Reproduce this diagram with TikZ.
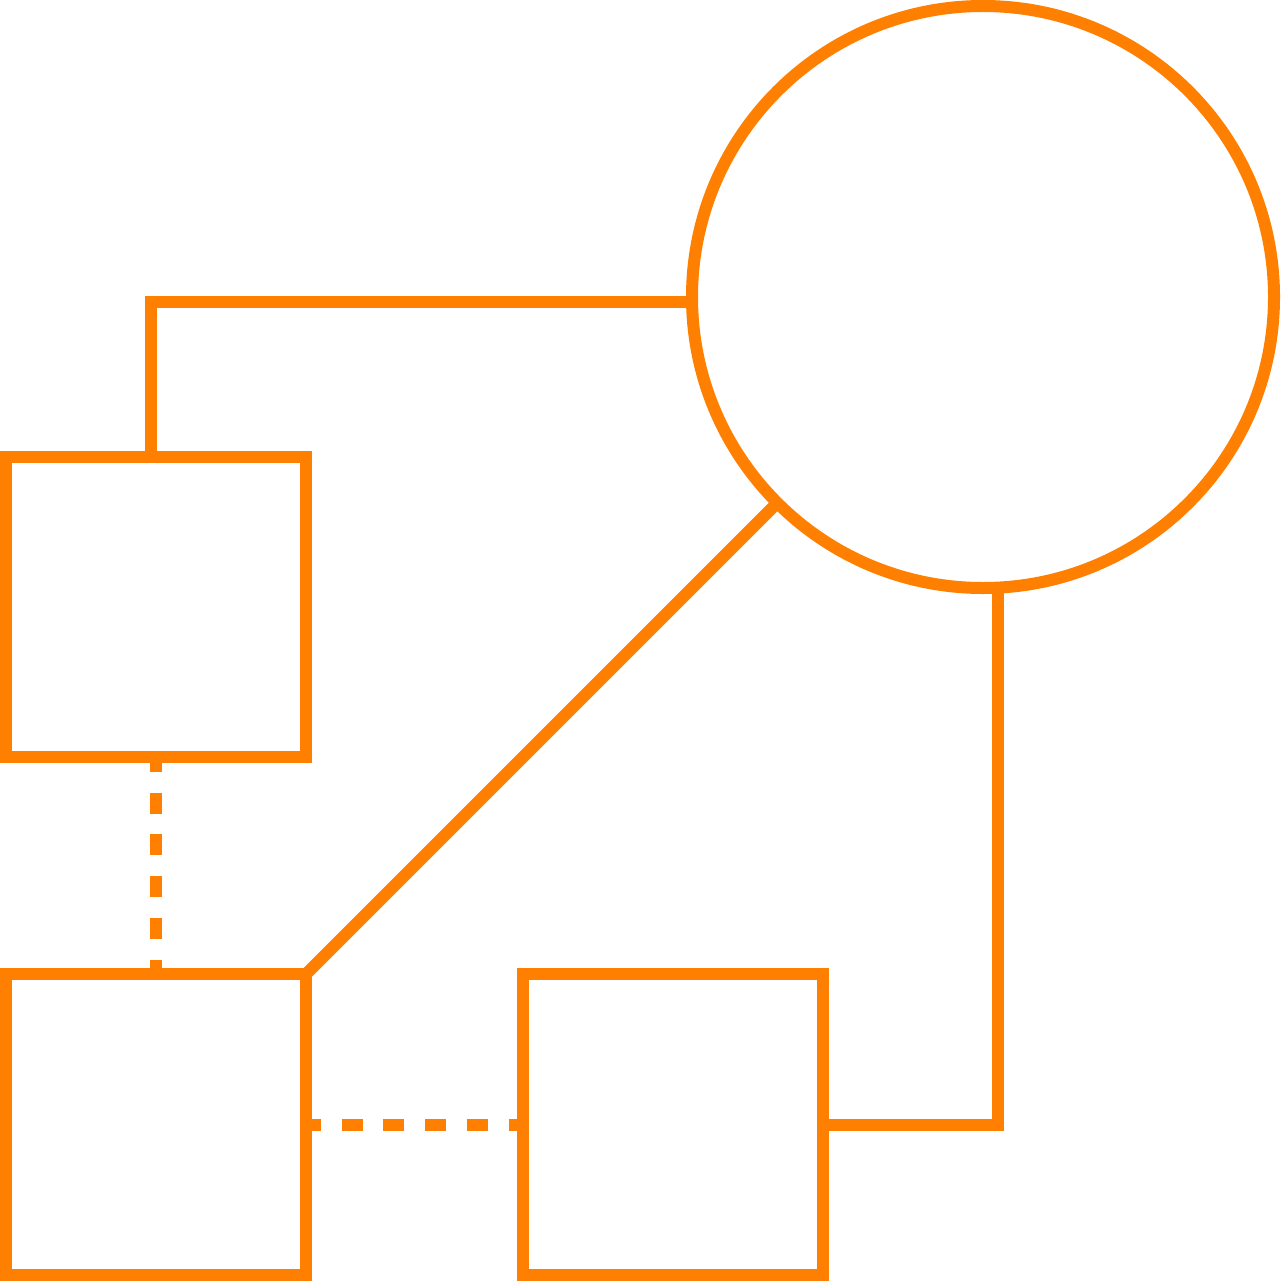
\documentclass[tikz,border=0pt]{standalone}
\definecolor{orng}{HTML}{FF7F00}
\begin{document}
\begin{tikzpicture}[x=1pt,y=-1pt,
  boxnode/.style={draw=orng,line width=12pt,rectangle,inner sep=0pt,outer sep=0pt,minimum width=300pt,minimum height=300pt},
  circnode/.style={draw=orng,line width=12pt,circle,inner sep=0pt,outer sep=0pt,minimum size=582pt},
  conn/.style={draw=orng,line width=12pt},
  dconn/.style={conn,dash pattern=on 21pt off 20.7pt,dash phase=6pt}]
\useasboundingbox (0,0) rectangle (1280,1281);
\node[circnode] (circ) at (983,297) {};
\node[boxnode] (boxA) at (156,607) {};
\node[boxnode, minimum height=301pt] (boxB) at (156,1124.5) {};
\node[boxnode, minimum height=301pt] (boxC) at (673,1124.5) {};
\draw[conn] (circ.181.4) -| ([xshift=-5pt]boxA.north);
\draw[dconn] (boxA.south) -- (boxB.north);
\draw[conn] (boxB.north east) -- (circ.225);
\draw[dconn] (boxB.east) -- (boxC.west);
\draw[conn] (boxC.east) -| (circ.273.35);
\end{tikzpicture}
\end{document}
